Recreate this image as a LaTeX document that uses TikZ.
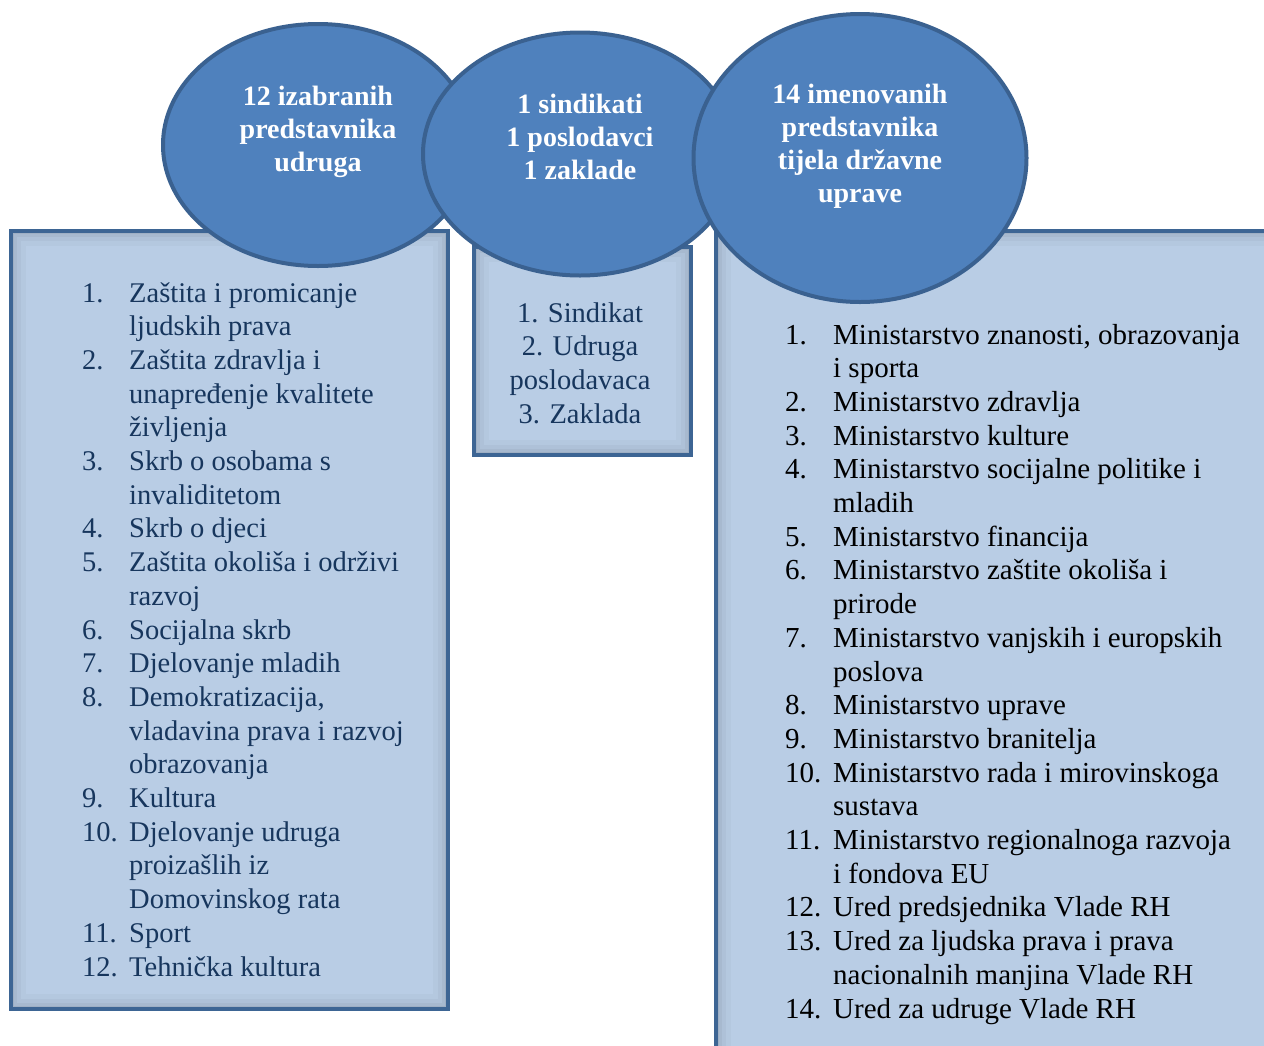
\documentclass[tikz,border=0pt]{standalone}
\usepackage{fontspec}
\setmainfont{Liberation Serif}
\usetikzlibrary{shapes.geometric}
\definecolor{ellfill}{HTML}{4F81BD}
\definecolor{ellline}{HTML}{3A6190}
\definecolor{boxfill}{HTML}{B9CDE5}
\definecolor{boxline}{HTML}{3D6594}
\definecolor{navy}{HTML}{17365D}
\newcommand{\nb}[1]{\makebox[47pt][l]{#1}}
\newcommand{\nr}[1]{\makebox[48pt][l]{#1}}
\begin{document}
\begin{tikzpicture}[x=1pt,y=-1pt,
  listbox/.style={draw=boxline, line width=4pt, fill=boxfill, rectangle, inner sep=0pt, anchor=north west,
    path picture={
      \foreach \w/\o in {30/0.025,20/0.03,12/0.04,6/0.05}{
        \draw[line width=\w pt, black, opacity=\o] (path picture bounding box.south west) rectangle (path picture bounding box.north east);}
    }},
  ell/.style={ellipse, draw=ellline, line width=4pt, fill=ellfill, inner sep=0pt},
  elltext/.style={anchor=base, inner sep=0pt, text=white, font=\fontsize{28}{33}\selectfont\bfseries},
  listtext/.style={anchor=base west, inner sep=0pt, font=\fontsize{28.5}{33.7}\selectfont}
]
\useasboundingbox (0,0) rectangle (1264,1045);
\clip (0,0) rectangle (1264,1045);

% boxes
\node[listbox, minimum width=437pt, minimum height=778pt] (lbox) at (9,229) {};
\node[listbox, minimum width=217pt, minimum height=208pt] (mbox) at (472,245) {};
\node[listbox, minimum width=570pt, minimum height=840pt] (rbox) at (714,229) {};

% ellipses
\node[ell, minimum width=310pt, minimum height=242pt] (e1) at (318,145) {};
\node[ell, minimum width=314pt, minimum height=243pt] (e2) at (580,154) {};
\node[ell, minimum width=333pt, minimum height=288pt] (e3) at (860,158) {};

% ellipse texts
\node[elltext] (t1) at (318,105) {\begin{tabular}[t]{@{}c@{}}12 izabranih\\ predstavnika\\ udruga\end{tabular}};
\node[elltext] (t2) at (580,113) {\begin{tabular}[t]{@{}c@{}}1 sindikati\\ 1 poslodavci\\ 1 zaklade\end{tabular}};
\node[elltext] (t3) at (860,103) {\begin{tabular}[t]{@{}c@{}}14 imenovanih\\ predstavnika\\ tijela državne\\ uprave\end{tabular}};

% left list
\node[listtext, text=navy] (ltext) at (82,302) {\begin{tabular}[t]{@{}l@{}l@{}}
\nb{1.} & Zaštita i promicanje\\
 & ljudskih prava\\
\nb{2.} & Zaštita zdravlja i\\
 & unapređenje kvalitete\\
 & življenja\\
\nb{3.} & Skrb o osobama s\\
 & invaliditetom\\
\nb{4.} & Skrb o djeci\\
\nb{5.} & Zaštita okoliša i održivi\\
 & razvoj\\
\nb{6.} & Socijalna skrb\\
\nb{7.} & Djelovanje mladih\\
\nb{8.} & Demokratizacija,\\
 & vladavina prava i razvoj\\
 & obrazovanja\\
\nb{9.} & Kultura\\
\nb{10.} & Djelovanje udruga\\
 & proizašlih iz\\
 & Domovinskog rata\\
\nb{11.} & Sport\\
\nb{12.} & Tehnička kultura
\end{tabular}};

% middle list
\node[listtext, anchor=base, text=navy] (mtext) at (580,322) {\begin{tabular}[t]{@{}c@{}}
1. Sindikat\\ 2. Udruga\\ poslodavaca\\ 3. Zaklada\end{tabular}};

% right list
\node[listtext, text=black, font=\fontsize{29}{33.7}\selectfont] (rtext) at (785,344) {\begin{tabular}[t]{@{}l@{}l@{}}
\nr{1.} & Ministarstvo znanosti, obrazovanja\\
 & i sporta\\
\nr{2.} & Ministarstvo zdravlja\\
\nr{3.} & Ministarstvo kulture\\
\nr{4.} & Ministarstvo socijalne politike i\\
 & mladih\\
\nr{5.} & Ministarstvo financija\\
\nr{6.} & Ministarstvo zaštite okoliša i\\
 & prirode\\
\nr{7.} & Ministarstvo vanjskih i europskih\\
 & poslova\\
\nr{8.} & Ministarstvo uprave\\
\nr{9.} & Ministarstvo branitelja\\
\nr{10.} & Ministarstvo rada i mirovinskoga\\
 & sustava\\
\nr{11.} & Ministarstvo regionalnoga razvoja\\
 & i fondova EU\\
\nr{12.} & Ured predsjednika Vlade RH\\
\nr{13.} & Ured za ljudska prava i prava\\
 & nacionalnih manjina Vlade RH\\
\nr{14.} & Ured za udruge Vlade RH
\end{tabular}};
\end{tikzpicture}
\end{document}
